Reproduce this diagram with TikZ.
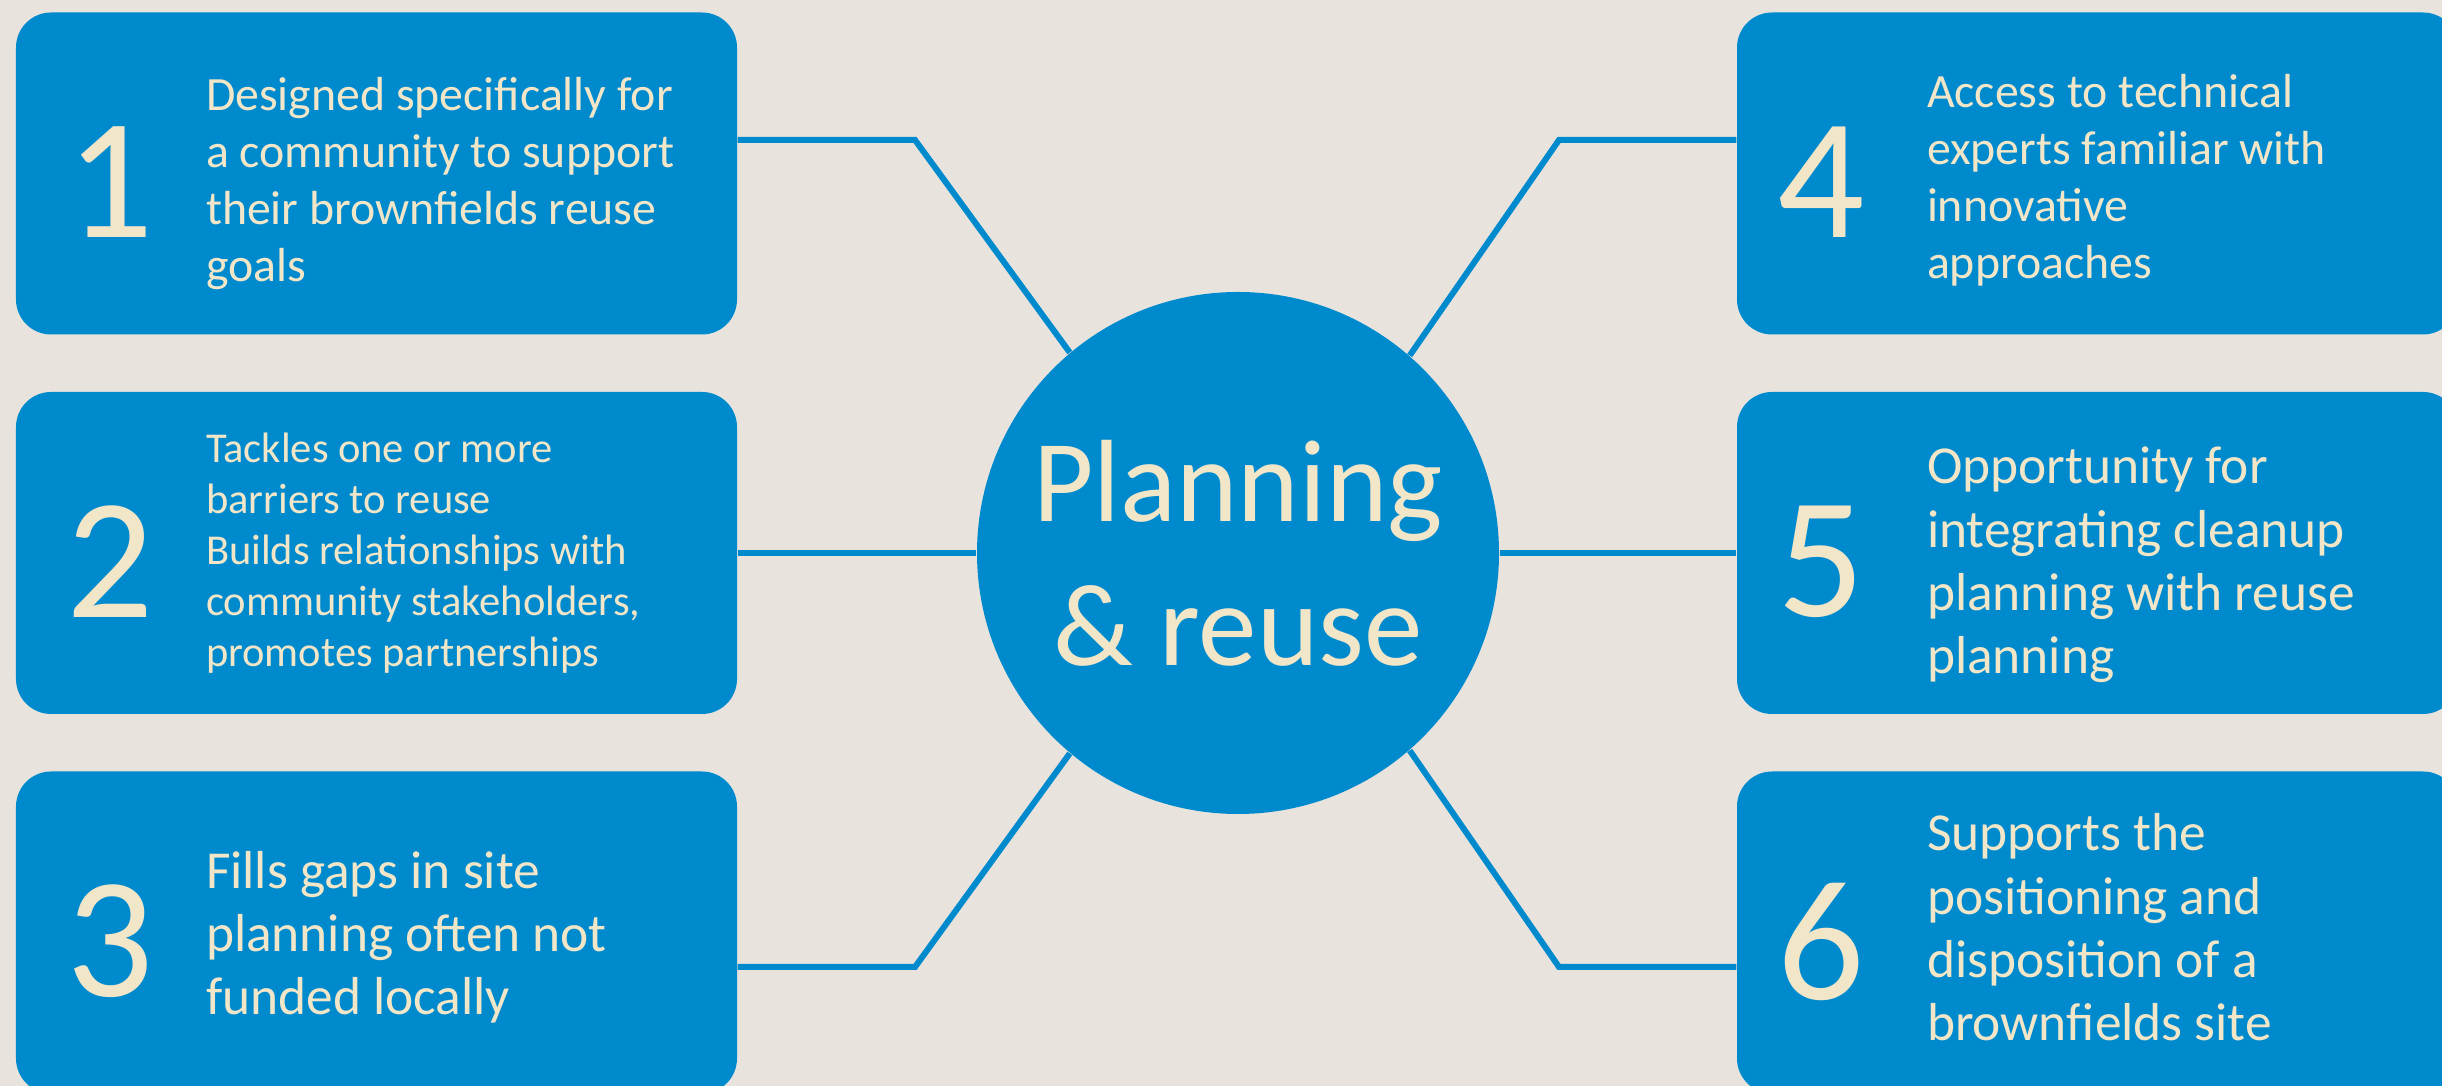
\documentclass[tikz,border=0pt]{standalone}
\usepackage{fontspec}
\setmainfont{Carlito}
\usepackage{tikz}
\usetikzlibrary{positioning}
\definecolor{boxblue}{RGB}{0,138,206}
\definecolor{cream}{RGB}{242,230,200}
\definecolor{paper}{RGB}{232,228,221}
\tikzset{
  card/.style={fill=boxblue,rounded corners=0.35cm,minimum width=7.21cm,minimum height=3.22cm,inner sep=0pt},
  bignum/.style={text=cream,inner sep=0pt,font=\fontsize{49}{49}\selectfont},
  blurb/.style={text=cream,align=left,anchor=west,inner sep=0pt},
  link/.style={draw=boxblue,line width=0.06cm}
}
\begin{document}
\begin{tikzpicture}[line cap=butt,line join=miter,x=1.0cm,y=1.0cm]
      \useasboundingbox (0,0) rectangle (24.42,10.86);
      \clip (0,0) rectangle (24.42,10.86);
      \fill[paper] (0,0) rectangle (24.42,10.86);
      \node[circle,fill=boxblue,minimum size=5.22cm,inner sep=0pt,text=cream,align=center,font=\fontsize{33.3}{41}\selectfont] (hub) at (12.38,5.33) {Planning\\\& reuse};
      \foreach \n/\y in {1/9.125,2/5.33,3/1.535}
      \node[card] (b\n) at (3.765,\y) {};
      \foreach \n/\y in {4/9.125,5/5.33,6/1.535}
      \node[card] (b\n) at (20.975,\y) {};
      \foreach \n in {1,2,3}
      \node[bignum] (num\n) at ([shift={(0.95,-0.09)}]b\n.west) {\n};
      \foreach \n in {4,5,6}
      \node[bignum] (num\n) at ([shift={(0.85,-0.09)}]b\n.west) {\n};
      \node[blurb,font=\fontsize{13.6}{16.2}\selectfont] (t1) at ([shift={(1.9,-0.1)}]b1.west) {Designed specifically for\\a community to support\\their brownfields reuse\\goals};
      \node[blurb,font=\fontsize{12.1}{14.5}\selectfont] (t2) at ([shift={(1.9,0.0)}]b2.west) {Tackles one or more\\barriers to reuse\\Builds relationships with\\community stakeholders,\\promotes partnerships};
      \node[blurb,font=\fontsize{15.2}{18}\selectfont] (t3) at ([shift={(1.9,-0.05)}]b3.west) {Fills gaps in site\\planning often not\\funded locally};
      \node[blurb,font=\fontsize{13.6}{16.2}\selectfont] (t4) at ([shift={(1.9,-0.07)}]b4.west) {Access to technical\\experts familiar with\\innovative\\approaches};
      \node[blurb,font=\fontsize{15.2}{18}\selectfont] (t5) at ([shift={(1.9,-0.12)}]b5.west) {Opportunity for\\integrating cleanup\\planning with reuse\\planning};
      \node[blurb,font=\fontsize{15.2}{18}\selectfont] (t6) at ([shift={(1.9,0.05)}]b6.west) {Supports the\\positioning and\\disposition of a\\brownfields site};
      \coordinate (e1) at (9.15,9.46);
      \coordinate (e3) at (9.15,1.19);
      \coordinate (e4) at (15.59,9.46);
      \coordinate (e6) at (15.59,1.19);
      \draw[link] (b1.east |- e1) -- (e1) -- (hub.130.8);
      \draw[link] (b3.east |- e3) -- (e3) -- (hub.-130.8);
      \draw[link] (b4.west |- e4) -- (e4) -- (hub.49.2);
      \draw[link] (b6.west |- e6) -- (e6) -- (hub.-49.2);
      \draw[link] (b2) -- (hub);
      \draw[link] (b5) -- (hub);
    \end{tikzpicture}
\end{document}
